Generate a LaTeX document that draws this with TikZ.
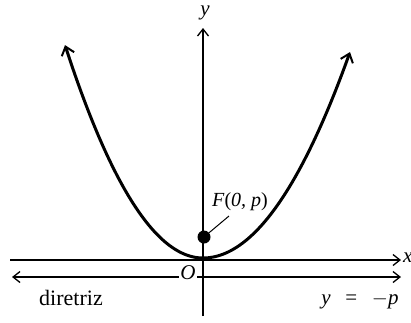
\documentclass[tikz,border=0pt]{standalone}
\usepackage{fontspec}
\setmainfont{Liberation Serif}
\usetikzlibrary{arrows.meta}
\begin{document}
\begin{tikzpicture}[x=1pt,y=-1pt,
  ax/.style={line width=1.1pt,-{Straight Barb[length=7pt,width=11pt,line width=1.3pt]}},
  dir/.style={line width=1.8pt,{Straight Barb[length=7pt,width=11pt,line width=1.3pt]}-{Straight Barb[length=7pt,width=11pt,line width=1.3pt]}},
  curve/.style={line width=3pt,{Straight Barb[length=8pt,width=13pt,line width=2pt]}-{Straight Barb[length=8pt,width=13pt,line width=2pt]}},
  lbl/.style={inner sep=0pt,font=\fontsize{21}{24}\selectfont},
  ilbl/.style={inner sep=0pt,font=\fontsize{21}{24}\selectfont\itshape}]
\useasboundingbox (0,0) rectangle (411,322);
% axes
\coordinate (ybot) at (203,316);
\coordinate (ytop) at (203,28);
\coordinate (xl) at (10,260);
\coordinate (xr) at (401,260);
\draw[ax] (ybot) -- (ytop);
\draw[ax] (xl) -- (xr);
\node[ilbl] (ylab) at (205,13) {y};
\node[ilbl,anchor=west] (xlab) at (403,258) {x};
% directrix
\coordinate (dl) at (12,277);
\coordinate (dr) at (401,277);
\draw[dir] (dl) -- (dr);
\node[ilbl,fill=white,inner sep=1pt] (O) at (188,273) {O};
% parabola
\draw[curve] plot[domain=-13.8:0,samples=60] ({203+10*\x},{258-1.118*\x*\x}) -- plot[domain=0:14.7,samples=60] ({203+10*\x},{258-0.953*\x*\x});
% focus
\node[circle,fill=black,inner sep=0pt,minimum size=13pt] (F) at (204,237) {};
\node[ilbl,font=\fontsize{20}{24}\selectfont\itshape] (Flab) at (240,202) {F\textup{(}0, p\textup{)}};
\draw[line width=1pt] (F) -- (229,216);
% labels
\node[lbl,font=\fontsize{22}{24}\selectfont] (dlab) at (71,298) {diretriz};
\node[ilbl] (ylab2) at (360,301) {y\hspace{0.7em}\textup{=}\hspace{0.7em}\textup{$-$}p};
\end{tikzpicture}
\end{document}
